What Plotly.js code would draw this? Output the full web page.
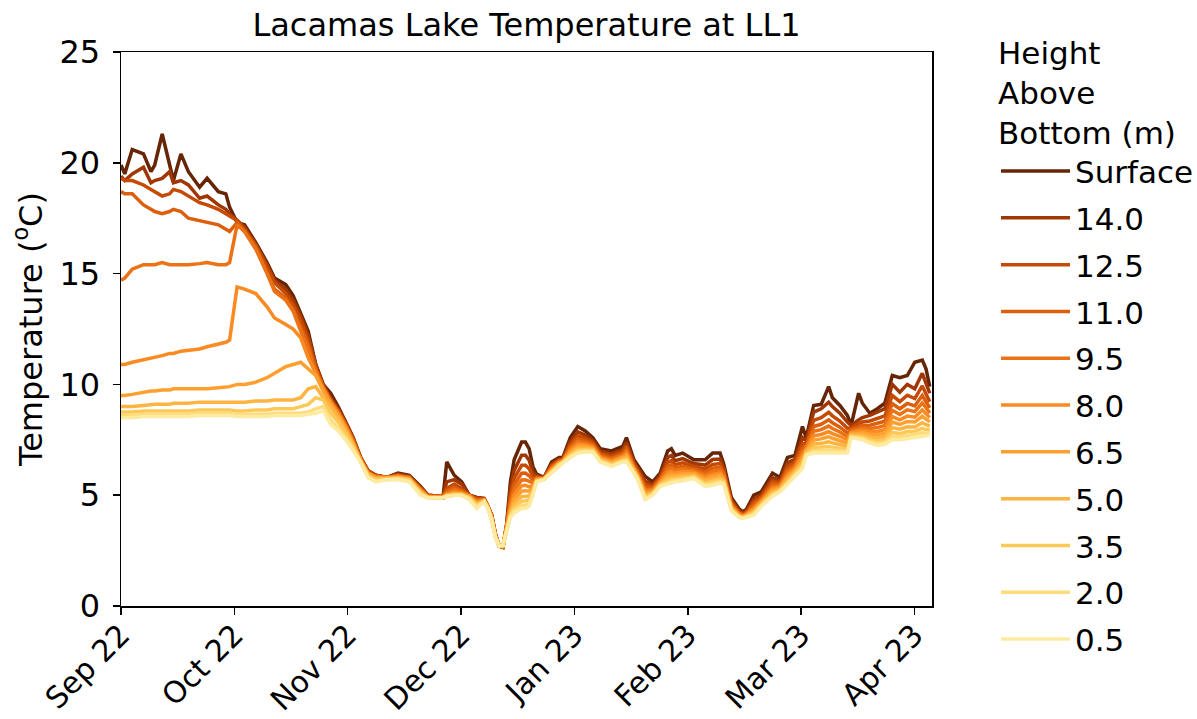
<!DOCTYPE html>
<html>
<head>
<meta charset="utf-8">
<script src="https://cdn.plot.ly/plotly-3.0.1.min.js"></script>
<style>
  html, body { margin: 0; padding: 0; background: #ffffff; }
  #chart { width: 1197px; height: 719px; }
</style>
</head>
<body>
<div id="chart"></div>
<script>
// Days since 1 Sep 2022 (x positions of the samples)
const days = [0,1,3,6,8,9,11,13,14,16,18,21,23,26,28,29,
  31,33,36,39,41,44,46,48,50,52,54,56,58,60,62,64,66,
  68,71,74,77,80,82,85,86,87,89,91,93,95,97,98,99,100,101,102,103,104,
  105,107,108,109,110,111,113,115,117,118,120,122,124,126,128,131,134,135,137,138,140,142,144,146,
  147,148,150,153,156,158,160,161,163,165,166,167,169,171,174,176,178,180,
  182,183,185,187,189,190,192,194,195,197,198,200,202,204,206,208,210,212,214,215,216];

const tempSurface = [19.9,19.5,20.6,20.4,19.6,19.9,21.3,19.8,19.2,20.4,19.6,18.9,19.3,18.7,18.6,18.0,
  17.3,17.2,16.4,15.5,14.8,14.5,14.0,13.2,12.4,10.9,10.0,9.6,9.0,8.3,7.6,6.7,6.1,
  5.9,5.8,6.0,5.9,5.4,5.0,4.95,4.9,6.5,5.9,5.6,5.0,4.9,4.85,4.5,4.1,3.25,2.7,2.65,3.7,5.6,
  6.6,7.4,7.4,7.1,6.3,5.95,5.8,6.5,6.7,6.7,7.6,8.1,7.9,7.6,7.1,7.0,7.2,7.6,6.6,6.35,5.85,5.6,6.0,7.0,
  7.1,6.8,6.9,6.6,6.6,6.9,6.9,6.4,4.9,4.4,4.25,4.35,5.0,5.15,6.0,5.8,6.7,6.8,
  8.1,7.6,9.05,9.1,9.9,9.4,9.05,8.6,8.15,9.6,9.15,8.7,8.9,9.15,10.4,10.3,10.4,11.0,11.1,10.7,9.9];

const temp14_0 = [19.4,19.2,19.5,19.8,19.1,19.2,19.3,19.6,19.1,19.2,19.0,18.4,18.5,18.1,17.9,17.7,
  17.4,17.1,16.3,15.4,14.7,14.3,13.8,13.1,12.2,10.9,10.0,9.4,8.9,8.3,7.6,6.7,6.1,
  5.9,5.8,5.95,5.85,5.35,5.0,4.95,4.95,5.6,5.7,5.5,5.0,4.9,4.85,4.5,4.1,3.25,2.7,2.65,3.65,5.3,
  6.12,6.8,6.8,6.58,6.04,5.88,5.8,6.4,6.63,6.65,7.42,7.86,7.71,7.47,6.98,6.86,7.06,7.38,6.48,6.22,5.64,5.48,5.88,6.7,
  6.79,6.56,6.65,6.43,6.36,6.61,6.63,6.22,4.78,4.32,4.19,4.28,4.82,5.02,5.79,5.67,6.46,6.62,
  7.6,7.45,8.75,8.9,9.2,9.0,8.7,8.3,8.15,8.4,8.5,8.6,8.75,8.9,10.0,9.65,10.0,9.8,10.5,10.1,9.6];

const temp12_5 = [19.3,19.2,19.2,19.0,18.8,18.7,18.5,18.6,18.8,18.7,18.5,18.2,18.1,17.9,17.7,17.6,
  17.4,17.0,16.3,15.3,14.6,14.1,13.6,12.9,12.0,10.8,9.9,9.3,8.8,8.2,7.5,6.7,6.1,
  5.9,5.8,5.9,5.8,5.3,5.0,4.95,4.95,5.3,5.5,5.3,5.0,4.85,4.85,4.5,4.05,3.2,2.7,2.65,3.6,5.0,
  5.76,6.35,6.35,6.19,5.85,5.83,5.78,6.33,6.58,6.61,7.29,7.68,7.57,7.37,6.89,6.76,6.96,7.22,6.39,6.12,5.48,5.39,5.79,6.48,
  6.56,6.38,6.46,6.3,6.18,6.39,6.43,6.09,4.69,4.26,4.15,4.23,4.69,4.92,5.63,5.57,6.28,6.49,
  7.32,7.32,8.38,8.5,8.74,8.58,8.34,8.02,8.04,8.23,8.3,8.35,8.45,8.58,9.5,9.22,9.51,9.36,9.93,9.61,9.22];

const temp11_0 = [18.7,18.6,18.6,18.1,17.9,17.8,17.7,17.8,17.9,17.8,17.5,17.4,17.3,17.2,17.0,16.9,
  17.3,16.9,16.2,15.1,14.3,13.9,13.4,12.6,11.8,10.7,9.9,9.3,8.8,8.2,7.5,6.6,6.0,
  5.85,5.8,5.9,5.8,5.3,4.95,4.95,4.95,5.2,5.35,5.2,5.0,4.8,4.8,4.5,4.05,3.2,2.7,2.65,3.6,4.8,
  5.47,5.99,6.0,5.88,5.69,5.79,5.77,6.27,6.54,6.58,7.18,7.54,7.45,7.29,6.82,6.67,6.87,7.08,6.32,6.04,5.36,5.32,5.72,6.3,
  6.37,6.24,6.31,6.2,6.04,6.22,6.27,5.98,4.62,4.21,4.11,4.19,4.58,4.84,5.51,5.49,6.14,6.38,
  7.11,7.22,8.1,8.2,8.4,8.27,8.07,7.81,7.96,8.1,8.15,8.16,8.23,8.34,9.13,8.9,9.14,9.03,9.5,9.24,8.94];

const temp9_5 = [14.7,14.8,15.2,15.4,15.4,15.4,15.5,15.4,15.4,15.4,15.4,15.45,15.5,15.4,15.4,15.5,
  17.2,16.9,16.1,15.0,14.2,13.8,13.3,12.4,11.6,10.6,9.8,9.2,8.7,8.1,7.4,6.6,6.0,
  5.85,5.8,5.85,5.8,5.25,4.95,4.9,4.95,5.1,5.25,5.15,5.0,4.75,4.8,4.5,4.0,3.2,2.7,2.65,3.55,4.6,
  5.23,5.69,5.7,5.62,5.56,5.75,5.76,6.22,6.5,6.56,7.09,7.42,7.36,7.23,6.76,6.6,6.8,6.97,6.26,5.98,5.25,5.26,5.66,6.15,
  6.22,6.12,6.19,6.12,5.92,6.07,6.13,5.89,4.56,4.17,4.08,4.15,4.49,4.78,5.4,5.43,6.02,6.29,
  6.94,7.14,7.88,7.96,8.12,8.01,7.85,7.64,7.89,8.0,8.03,8.01,8.05,8.15,8.83,8.64,8.85,8.77,9.16,8.95,8.71];

const temp8_0 = [10.9,10.9,11.0,11.1,11.2,11.2,11.3,11.4,11.4,11.5,11.55,11.6,11.7,11.8,11.9,12.0,
  14.4,14.3,14.1,13.5,13.0,12.7,12.5,12.1,11.2,10.5,9.8,9.2,8.7,8.1,7.4,6.6,6.0,
  5.8,5.8,5.85,5.75,5.2,4.95,4.9,4.9,5.05,5.15,5.1,4.95,4.7,4.8,4.45,4.0,3.15,2.7,2.7,3.5,4.45,
  5.02,5.42,5.45,5.38,5.44,5.72,5.75,6.17,6.47,6.54,7.01,7.31,7.27,7.17,6.7,6.54,6.74,6.87,6.2,5.92,5.16,5.2,5.6,6.01,
  6.08,6.01,6.08,6.04,5.81,5.94,6.01,5.81,4.5,4.14,4.05,4.12,4.41,4.72,5.31,5.37,5.91,6.21,
  6.79,7.07,7.68,7.74,7.87,7.78,7.66,7.49,7.83,7.91,7.92,7.88,7.88,7.97,8.55,8.4,8.57,8.52,8.85,8.68,8.5];

const temp6_5 = [9.5,9.5,9.55,9.65,9.7,9.7,9.75,9.75,9.8,9.8,9.8,9.8,9.8,9.85,9.9,9.9,
  10.0,10.0,10.1,10.3,10.5,10.8,10.9,11.0,10.7,10.4,9.7,9.1,8.6,8.0,7.3,6.6,6.0,
  5.8,5.75,5.8,5.75,5.2,4.9,4.9,4.9,5.0,5.1,5.05,4.95,4.65,4.75,4.45,4.0,3.15,2.7,2.7,3.5,4.3,
  4.82,5.18,5.2,5.18,5.34,5.69,5.74,6.13,6.44,6.52,6.93,7.21,7.2,7.12,6.66,6.48,6.68,6.79,6.16,5.87,5.07,5.16,5.56,5.89,
  5.95,5.91,5.98,5.97,5.71,5.83,5.9,5.73,4.46,4.1,4.03,4.09,4.33,4.67,5.22,5.32,5.81,6.13,
  6.65,7.01,7.49,7.54,7.64,7.57,7.48,7.35,7.78,7.82,7.82,7.75,7.73,7.81,8.3,8.19,8.33,8.3,8.56,8.43,8.31];

const temp5_0 = [9.0,9.0,9.0,9.05,9.1,9.1,9.1,9.1,9.15,9.15,9.15,9.2,9.2,9.2,9.2,9.2,
  9.2,9.2,9.25,9.25,9.3,9.3,9.3,9.4,9.8,9.9,9.4,9.0,8.5,7.9,7.3,6.5,5.9,
  5.75,5.75,5.8,5.7,5.15,4.9,4.9,4.9,5.0,5.05,5.05,4.9,4.6,4.75,4.45,3.95,3.15,2.7,2.7,3.45,4.2,
  4.63,4.94,4.95,4.97,5.23,5.66,5.73,6.09,6.41,6.5,6.86,7.12,7.12,7.07,6.61,6.43,6.63,6.7,6.11,5.82,4.99,5.11,5.51,5.77,
  5.83,5.82,5.88,5.9,5.62,5.71,5.79,5.66,4.41,4.07,4.0,4.06,4.26,4.62,5.14,5.27,5.72,6.06,
  6.51,6.94,7.31,7.34,7.41,7.36,7.3,7.21,7.72,7.74,7.72,7.63,7.58,7.65,8.05,7.98,8.09,8.08,8.27,8.18,8.12];

const temp3_5 = [8.75,8.75,8.75,8.8,8.8,8.8,8.8,8.8,8.8,8.8,8.8,8.85,8.85,8.85,8.85,8.85,
  8.8,8.8,8.85,8.85,8.9,8.9,8.9,9.0,9.1,9.4,9.3,8.7,8.3,7.8,7.2,6.5,5.9,
  5.7,5.75,5.75,5.7,5.1,4.9,4.9,4.9,4.95,5.0,5.0,4.9,4.55,4.75,4.4,3.95,3.1,2.7,2.7,3.45,4.1,
  4.46,4.73,4.75,4.79,5.14,5.64,5.72,6.06,6.39,6.48,6.8,7.03,7.05,7.02,6.57,6.38,6.58,6.62,6.07,5.77,4.92,5.07,5.47,5.67,
  5.72,5.73,5.79,5.84,5.53,5.61,5.7,5.6,4.37,4.04,3.98,4.04,4.2,4.57,5.07,5.22,5.63,6.0,
  6.38,6.88,7.14,7.16,7.2,7.17,7.13,7.08,7.67,7.66,7.63,7.51,7.45,7.51,7.83,7.78,7.87,7.89,8.02,7.96,7.95];

const temp2_0 = [8.6,8.6,8.6,8.65,8.65,8.65,8.65,8.65,8.65,8.65,8.65,8.7,8.7,8.7,8.7,8.7,
  8.65,8.65,8.65,8.65,8.7,8.7,8.7,8.7,8.75,8.9,9.0,8.4,8.0,7.6,7.1,6.5,5.8,
  5.65,5.7,5.75,5.65,5.05,4.9,4.87,4.9,4.95,5.0,5.0,4.85,4.5,4.7,4.4,3.9,3.1,2.7,2.75,3.4,4.05,
  4.32,4.55,4.55,4.63,5.07,5.62,5.71,6.03,6.37,6.46,6.75,6.96,7.0,6.98,6.53,6.34,6.54,6.56,6.03,5.73,4.85,5.03,5.43,5.58,
  5.63,5.66,5.71,5.79,5.46,5.52,5.61,5.55,4.33,4.02,3.97,4.02,4.15,4.53,5.0,5.18,5.56,5.95,
  6.28,6.84,7.01,7.02,7.04,7.03,7.01,6.98,7.63,7.6,7.56,7.43,7.34,7.4,7.65,7.63,7.7,7.73,7.82,7.8,7.82];

const temp0_5 = [8.5,8.5,8.5,8.55,8.55,8.55,8.55,8.55,8.55,8.55,8.55,8.6,8.6,8.6,8.6,8.6,
  8.55,8.55,8.55,8.55,8.6,8.6,8.6,8.6,8.65,8.7,8.8,8.2,7.9,7.5,7.0,6.5,5.8,
  5.6,5.7,5.7,5.6,5.0,4.87,4.87,4.9,4.95,5.0,5.0,4.8,4.4,4.7,4.4,3.9,3.1,2.7,2.75,3.4,4.0,
  4.2,4.4,4.4,4.5,5.0,5.6,5.7,6.0,6.35,6.45,6.7,6.9,6.95,6.95,6.5,6.3,6.5,6.5,6.0,5.7,4.8,5.0,5.4,5.5,
  5.55,5.6,5.65,5.75,5.4,5.45,5.55,5.5,4.3,4.0,3.95,4.0,4.1,4.5,4.95,5.15,5.5,5.9,
  6.2,6.8,6.9,6.9,6.9,6.9,6.9,6.9,7.6,7.55,7.5,7.35,7.25,7.3,7.5,7.5,7.55,7.6,7.65,7.65,7.7];

const seriesNames = ['Surface','14.0','12.5','11.0','9.5','8.0','6.5','5.0','3.5','2.0','0.5'];
const seriesValues = [tempSurface, temp14_0, temp12_5, temp11_0, temp9_5, temp8_0, temp6_5, temp5_0, temp3_5, temp2_0, temp0_5];
const seriesColors = ['#662506','#a03704','#c54a04','#dc5f0d','#ec7216','#f98b22','#fea030','#feb441','#fec857','#fedb7b','#feeba2'];

const monthTickText = ['Sep 22','Oct 22','Nov 22','Dec 22','Jan 23','Feb 23','Mar 23','Apr 23'];
const monthTickDays = [0, 30.27, 60.55, 90.82, 121.1, 151.37, 181.64, 211.9];
const tempTicks = [0, 5, 10, 15, 20, 25];

const traces = seriesNames.map((name, i) => ({
  type: 'scatter',
  mode: 'lines',
  name: name,
  legendgroup: 'g' + i,
  x: days,
  y: seriesValues[i],
  line: { color: seriesColors[i], width: 3.5 },
  hoverinfo: 'x+y+name'
}));

const axisCommon = {
  showline: true, mirror: true, linecolor: '#000000', linewidth: 1.5,
  ticks: 'outside', ticklen: 7, tickwidth: 1.5, tickcolor: '#000000',
  showgrid: false, zeroline: false,
  automargin: false,
  tickfont: { family: 'DejaVu Sans', size: 32, color: '#000000' }
};

const layout = {
  width: 1197, height: 719,
  margin: { l: 121, r: 265, t: 52, b: 113, autoexpand: false },
  paper_bgcolor: '#ffffff', plot_bgcolor: '#ffffff',
  font: { family: 'DejaVu Sans', color: '#000000', size: 31 },
  showlegend: true,
  title: {
    text: 'Lacamas Lake Temperature at LL1',
    font: { family: 'DejaVu Sans', size: 32, color: '#000000' },
    xref: 'paper', x: 0.5, xanchor: 'center',
    yref: 'container', y: 1 - 25 / 719, yanchor: 'middle'
  },
  xaxis: Object.assign({}, axisCommon, {
    range: [0, 216.6],
    tickmode: 'array', tickvals: monthTickDays, ticktext: monthTickText,
    tickangle: -45,
    tickfont: { family: 'DejaVu Sans', size: 30, color: '#000000' },
    ticklabelstandoff: -9
  }),
  yaxis: Object.assign({}, axisCommon, {
    range: [0, 25],
    tickmode: 'array', tickvals: tempTicks,
    ticklabelstandoff: 6,
    title: { text: 'Temperature (<sup>o</sup>C)', font: { family: 'DejaVu Sans', size: 32, color: '#000000' }, standoff: 7 }
  }),
  legend: {
    x: 996 / 1197, xanchor: 'left', xref: 'container',
    y: 1 - 23.5 / 719, yanchor: 'top', yref: 'container',
    bgcolor: 'rgba(0,0,0,0)', borderwidth: 0,
    font: { family: 'DejaVu Sans', size: 31, color: '#000000' },
    title: { text: 'Height<br>Above<br>Bottom (m)', font: { family: 'DejaVu Sans', size: 31, color: '#000000' }, side: 'top' },
    traceorder: 'grouped',
    tracegroupgap: 3.5,
    itemwidth: 69,
    maxheight: 700
  }
};

Plotly.newPlot('chart', traces, layout, { displayModeBar: false, staticPlot: true });
</script>
</body>
</html>
